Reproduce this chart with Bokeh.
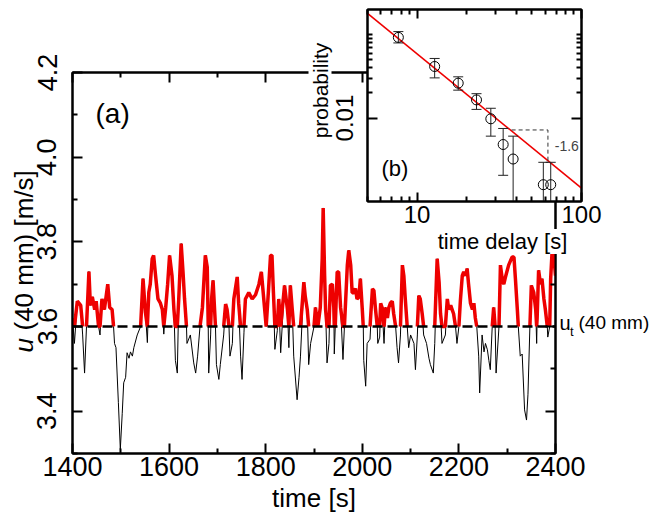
import numpy as np
from bokeh.plotting import figure
from bokeh.models import (Range1d, FixedTicker, LinearAxis, LogAxis, Span, Label,
                          BasicTickFormatter, PrintfTickFormatter)
from bokeh.embed import file_html
from bokeh.resources import INLINE

FONT = "Liberation Sans"

# ---------------- panel (a): velocity time series ----------------
time_s = [
    1400, 1404, 1410, 1417, 1421, 1425, 1429, 1434, 1437, 1441,
    1446, 1449, 1454, 1457, 1461, 1466, 1473, 1477, 1482, 1485,
    1487, 1490, 1495, 1499, 1503, 1506, 1510, 1513, 1517, 1520,
    1524, 1527, 1534, 1541, 1546, 1551, 1555, 1558, 1561, 1565,
    1568, 1572, 1577, 1582, 1586, 1589, 1593, 1597, 1601, 1606,
    1610, 1613, 1617, 1620, 1625, 1629, 1632, 1636, 1637, 1644,
    1651, 1655, 1659, 1664, 1669, 1675, 1679, 1681, 1682, 1686,
    1688, 1691, 1696, 1698, 1703, 1706, 1713, 1717, 1720, 1724,
    1726, 1731, 1734, 1741, 1744, 1748, 1751, 1755, 1758, 1765,
    1772, 1779, 1786, 1791, 1796, 1801, 1806, 1810, 1813, 1816,
    1819, 1824, 1827, 1831, 1839, 1845, 1848, 1851, 1855, 1858,
    1865, 1869, 1872, 1879, 1882, 1886, 1889, 1893, 1900, 1903,
    1908, 1913, 1917, 1919, 1922, 1924, 1927, 1931, 1934, 1938,
    1941, 1942, 1944, 1948, 1951, 1955, 1960, 1963, 1969, 1972,
    1976, 1979, 1983, 1986, 1989, 1993, 1996, 2000, 2002, 2003,
    2007, 2010, 2016, 2021, 2024, 2027, 2031, 2032, 2036, 2038,
    2041, 2045, 2048, 2052, 2055, 2058, 2062, 2065, 2069, 2072,
    2075, 2079, 2083, 2086, 2089, 2093, 2096, 2100, 2107, 2110,
    2114, 2117, 2120, 2124, 2127, 2133, 2138, 2141, 2147, 2150,
    2155, 2159, 2162, 2165, 2172, 2176, 2179, 2183, 2186, 2189,
    2193, 2196, 2200, 2203, 2207, 2210, 2214, 2217, 2220, 2224,
    2228, 2231, 2234, 2237, 2241, 2243, 2248, 2252, 2255, 2259,
    2262, 2265, 2269, 2272, 2275, 2277, 2283, 2286, 2290, 2293,
    2296, 2303, 2310, 2314, 2317, 2321, 2323, 2327, 2331, 2336,
    2340, 2343, 2347, 2350, 2355, 2359, 2361, 2362, 2365, 2369,
    2372, 2376, 2379, 2383, 2384, 2388, 2390, 2394, 2400,
]
u_ms = [
    3.62, 3.56, 3.66, 3.65, 3.58, 3.49, 3.60, 3.73, 3.65, 3.67,
    3.64, 3.66, 3.60, 3.58, 3.665, 3.64, 3.70, 3.645, 3.64, 3.60,
    3.56, 3.55, 3.42, 3.31, 3.395, 3.467, 3.48, 3.538, 3.525, 3.54,
    3.53, 3.55, 3.58, 3.60, 3.713, 3.633, 3.562, 3.681, 3.70, 3.76,
    3.768, 3.72, 3.665, 3.655, 3.64, 3.582, 3.645, 3.70, 3.768, 3.72,
    3.64, 3.52, 3.49, 3.665, 3.796, 3.725, 3.665, 3.60, 3.56, 3.58,
    3.514, 3.49, 3.53, 3.60, 3.645, 3.768, 3.74, 3.60, 3.49, 3.58,
    3.665, 3.709, 3.60, 3.51, 3.475, 3.51, 3.58, 3.653, 3.64, 3.60,
    3.53, 3.56, 3.665, 3.717, 3.655, 3.53, 3.475, 3.585, 3.665, 3.68,
    3.665, 3.675, 3.70, 3.729, 3.665, 3.60, 3.69, 3.768, 3.768, 3.68,
    3.546, 3.59, 3.665, 3.538, 3.697, 3.64, 3.55, 3.697, 3.64, 3.53,
    3.427, 3.48, 3.53, 3.705, 3.67, 3.64, 3.51, 3.56, 3.60, 3.645,
    3.60, 3.645, 3.76, 3.88, 3.72, 3.64, 3.514, 3.56, 3.697, 3.70,
    3.645, 3.535, 3.60, 3.729, 3.729, 3.645, 3.522, 3.60, 3.745, 3.78,
    3.745, 3.68, 3.68, 3.69, 3.665, 3.67, 3.713, 3.64, 3.60, 3.52,
    3.459, 3.56, 3.57, 3.689, 3.685, 3.645, 3.60, 3.56, 3.575, 3.655,
    3.645, 3.56, 3.645, 3.62, 3.645, 3.655, 3.66, 3.63, 3.60, 3.55,
    3.514, 3.58, 3.745, 3.72, 3.665, 3.60, 3.55, 3.58, 3.56, 3.498,
    3.58, 3.673, 3.665, 3.63, 3.58, 3.56, 3.525, 3.51, 3.49, 3.56,
    3.76, 3.705, 3.63, 3.56, 3.58, 3.665, 3.64, 3.65, 3.64, 3.63,
    3.60, 3.56, 3.60, 3.66, 3.72, 3.729, 3.72, 3.737, 3.70, 3.655,
    3.64, 3.655, 3.62, 3.60, 3.53, 3.443, 3.58, 3.54, 3.56, 3.545,
    3.52, 3.498, 3.60, 3.645, 3.60, 3.49, 3.60, 3.745, 3.71, 3.70,
    3.715, 3.745, 3.764, 3.764, 3.713, 3.64, 3.60, 3.53, 3.535, 3.403,
    3.379, 3.44, 3.60, 3.697, 3.68, 3.64, 3.56, 3.62, 3.733, 3.70,
    3.713, 3.665, 3.64, 3.60, 3.575, 3.60, 3.713, 3.80, 3.72,
]
assert len(time_s) == len(u_ms)
u_threshold = 3.6

x_ticks = [1400, 1600, 1800, 2000, 2200, 2400]
x_minor = [1500, 1700, 1900, 2100, 2300]
y_ticks = [3.4, 3.6, 3.8, 4.0, 4.2]
y_minor = [3.3, 3.5, 3.7, 3.9, 4.1]

# ---------------- panel (b): waiting-time distribution ----------------
delay_s = [7.7, 12.8, 17.8, 23.0, 28.1, 33.4, 38.4, 58.6, 65.0]
prob = [0.0927, 0.0415, 0.0262, 0.0165, 0.0098, 0.00482, 0.00323, 0.00159, 0.00159]
prob_hi = [0.1087, 0.0518, 0.0312, 0.0196, 0.0131, 0.0075, 0.00607, 0.00295, 0.00295]
prob_lo = [0.0795, 0.0303, 0.0216, 0.0127, 0.00607, 0.00206, 0.0003, 0.0003, 0.0003]
fit_x = [5, 100]
fit_y = [0.18, 0.00145]
tri_x = [37.6, 62.5, 62.5]
tri_y = [0.0072, 0.0072, 0.0030]
slope_text = "-1.6"
ix_ticks = [10, 100]
ix_minor = [5, 6, 7, 8, 9, 20, 30, 40, 50, 60, 70, 80, 90]
iy_ticks = [0.01]
iy_minor = [0.02, 0.03, 0.04, 0.05, 0.06, 0.07, 0.08, 0.09, 0.1]

W, H = 650, 512


def style_axis(ax, ticks, minor, size, show=True, tin=10, tmin=5):
    ax.ticker = FixedTicker(ticks=ticks, minor_ticks=minor)
    ax.axis_line_width = 2
    ax.axis_line_color = "black"
    ax.major_tick_in = tin
    ax.major_tick_out = 0
    ax.minor_tick_in = tmin
    ax.minor_tick_out = 0
    ax.major_tick_line_width = 2
    ax.minor_tick_line_width = 2
    ax.major_tick_line_color = "black"
    ax.minor_tick_line_color = "black"
    ax.major_label_text_font = FONT
    if show:
        ax.major_label_text_font_size = f"{size}px"
        ax.major_label_text_color = "black"
    else:
        ax.major_label_text_font_size = "8px"
        ax.major_label_text_color = None
        ax.major_label_standoff = 0
    ax.axis_label = None


# ---------------- main figure (a) ----------------
p = figure(width=W, height=H, x_range=Range1d(1400, 2400), y_range=Range1d(3.3, 4.2),
           output_backend="svg", toolbar_location=None,
           min_border_left=72, min_border_right=95, min_border_top=72, min_border_bottom=59)
p.xgrid.visible = False
p.ygrid.visible = False
p.outline_line_color = "black"
p.outline_line_width = 2
p.background_fill_color = "white"
p.border_fill_color = "white"

style_axis(p.xaxis[0], x_ticks, x_minor, 27)
p.xaxis[0].major_label_standoff = 3
style_axis(p.yaxis[0], y_ticks, y_minor, 27)
p.yaxis[0].formatter = PrintfTickFormatter(format="%.1f")
p.yaxis[0].major_label_orientation = "vertical"
p.yaxis[0].major_label_standoff = 16
top_ax = LinearAxis()
style_axis(top_ax, x_ticks, x_minor, 27, show=False)
p.add_layout(top_ax, "above")
right_ax = LinearAxis()
style_axis(right_ax, y_ticks, y_minor, 27, show=False)
p.add_layout(right_ax, "right")

t = np.array(time_s, dtype=float)
u = np.array(u_ms, dtype=float)
above = u > u_threshold
near = above | np.r_[above[1:], False] | np.r_[False, above[:-1]]
u_red = np.where(near, np.maximum(u, u_threshold), np.nan)

p.line(t, u, line_color="black", line_width=1)
p.line(t, u_red, line_color="#ee0000", line_width=3.5)
p.add_layout(Span(location=u_threshold, dimension="width", line_color="black",
                  line_width=2.5, line_dash="10 5"))

# ---------------- inset figure (b), a separate root placed over the main one ----------------
IN_TOP = -40          # page y of the inset canvas top
IN_H = 320
q = figure(width=W, height=IN_H, x_axis_type="log", y_axis_type="log",
           x_range=Range1d(5, 100), y_range=Range1d(0.001, 0.2),
           output_backend="svg", toolbar_location=None,
           min_border_left=367, min_border_right=69,
           min_border_top=9 - IN_TOP, min_border_bottom=IN_H - (201 - IN_TOP),
           styles={"position": "absolute", "left": "0px", "top": f"{IN_TOP}px"})
q.xgrid.visible = False
q.ygrid.visible = False
q.border_fill_color = None
q.background_fill_color = "white"
q.outline_line_color = "black"
q.outline_line_width = 2

style_axis(q.xaxis[0], ix_ticks, ix_minor, 24, tin=9, tmin=5)
q.xaxis[0].formatter = BasicTickFormatter(use_scientific=False)
q.xaxis[0].major_label_standoff = 4
style_axis(q.yaxis[0], iy_ticks, iy_minor, 24, tin=10, tmin=5)
q.yaxis[0].formatter = BasicTickFormatter(use_scientific=False)
q.yaxis[0].major_label_orientation = "vertical"
q.yaxis[0].major_label_standoff = 14
itop = LogAxis()
style_axis(itop, ix_ticks, ix_minor, 24, show=False, tin=9, tmin=5)
q.add_layout(itop, "above")
iright = LogAxis()
style_axis(iright, iy_ticks, iy_minor, 24, show=False, tin=10, tmin=5)
q.add_layout(iright, "right")

q.line(fit_x, fit_y, line_color="#ee0000", line_width=1.6)
q.line(tri_x, tri_y, line_color="#333333", line_width=1, line_dash="4 3")
q.segment(x0=delay_s, y0=prob_lo, x1=delay_s, y1=prob_hi, line_color="#222222", line_width=1)
q.scatter(delay_s, prob_hi, marker="dash", size=10, line_color="#222222", line_width=1)
q.scatter(delay_s, prob_lo, marker="dash", size=10, line_color="#222222", line_width=1)
q.scatter(delay_s, prob, marker="circle", size=10, fill_color=None,
          line_color="black", line_width=1)
q.add_layout(Label(x=tri_x[1] * 1.1, y=float(np.sqrt(tri_y[1] * tri_y[2])), text=slope_text,
                   text_font=FONT, text_font_size="14px", text_baseline="middle"))

# ---------------- text layer: page-pixel coordinates, over both panels ----------------
r = figure(width=W, height=H, x_range=Range1d(0, W), y_range=Range1d(H, 0),
           x_axis_location=None, y_axis_location=None, toolbar_location=None,
           output_backend="svg", min_border=0,
           styles={"position": "absolute", "left": "0px", "top": "0px"})
r.xgrid.visible = False
r.ygrid.visible = False
r.outline_line_color = None
r.background_fill_color = None
r.border_fill_color = None


def txt(x, y, s, size, **kw):
    r.add_layout(Label(x=x, y=y, text=s, text_font=FONT, text_font_size=f"{size}px",
                       text_color="black", **kw))


txt(95, 113, "(a)", 28, text_baseline="alphabetic")
txt(313.5, 497, "time [s]", 26, text_align="center", text_baseline="alphabetic")
txt(23, 352, "u", 26, angle=np.pi / 2, text_font_style="italic",
    text_align="left", text_baseline="middle")
txt(23, 330, "(40 mm) [m/s]", 26, angle=np.pi / 2, text_align="left", text_baseline="middle")
txt(559, 322, "u", 20, text_baseline="alphabetic")
txt(569.5, 331, "t", 13, text_baseline="alphabetic")
txt(578, 322, "(40 mm)", 19, text_baseline="alphabetic")
txt(381, 168, "(b)", 22, text_baseline="alphabetic")
txt(502, 241, "time delay [s]", 22, text_align="center", text_baseline="alphabetic",
    background_fill_color="white")
txt(319.5, 90, "probability", 21, angle=np.pi / 2, text_align="center",
    text_baseline="middle", background_fill_color="white")

open("out.html", "w").write(file_html([p, q, r], INLINE))
